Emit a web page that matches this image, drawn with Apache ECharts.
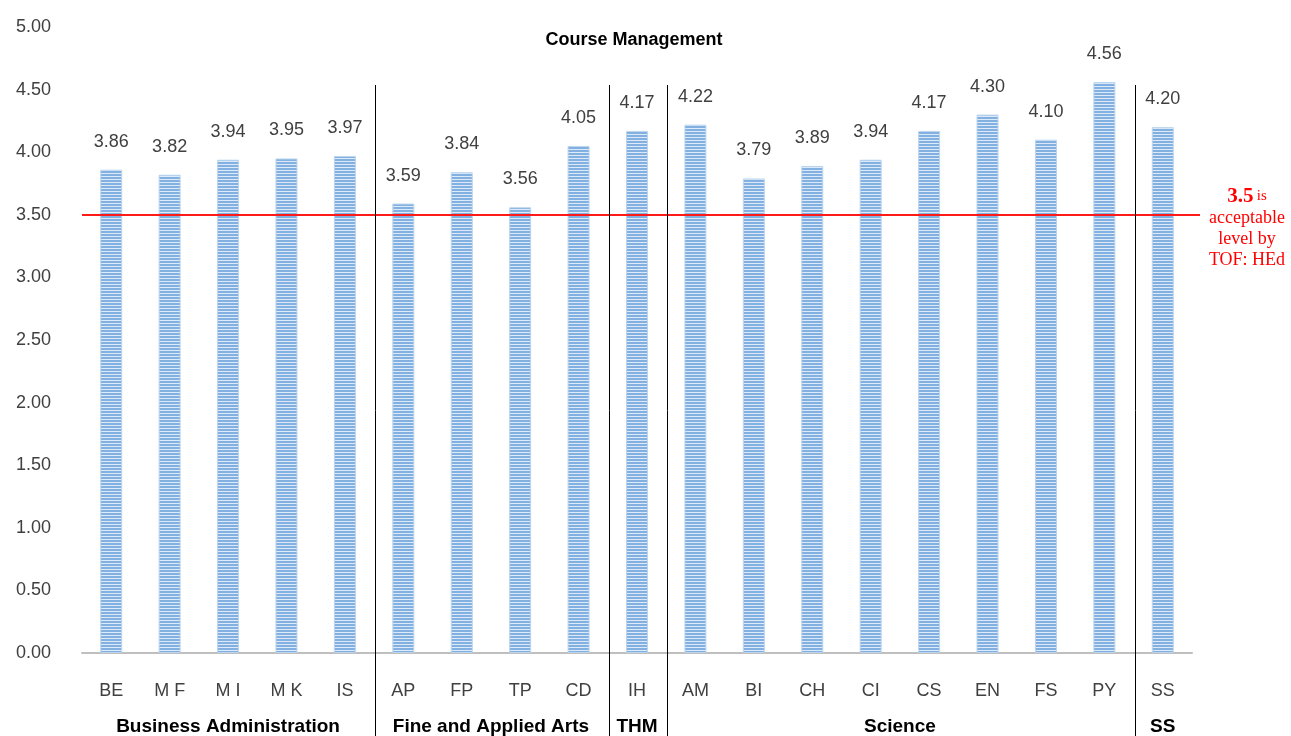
<!DOCTYPE html>
<html>
<head>
<meta charset="utf-8">
<script src="https://cdn.jsdelivr.net/npm/echarts@6/dist/echarts.min.js"></script>
<style>
  html, body { margin: 0; padding: 0; background: #fff; }
  #chart { width: 1291px; height: 736px; }
</style>
</head>
<body>
<div id="chart"></div>
<script>
// data
const programs = ['BE', 'M F', 'M I', 'M K', 'IS', 'AP', 'FP', 'TP', 'CD', 'IH', 'AM', 'BI', 'CH', 'CI', 'CS', 'EN', 'FS', 'PY', 'SS'];
const scores = [3.86, 3.82, 3.94, 3.95, 3.97, 3.59, 3.84, 3.56, 4.05, 4.17, 4.22, 3.79, 3.89, 3.94, 4.17, 4.30, 4.10, 4.56, 4.20];
const groupNames = ['Business Administration', 'Fine and Applied Arts', 'THM', 'Science', 'SS'];
const groupSizes = [5, 4, 1, 8, 1];
const acceptable = 3.5;

// striped fill like the original bars
function stripePattern() {
  const c = document.createElement('canvas');
  c.width = 4; c.height = 3;
  const ctx = c.getContext('2d');
  ctx.fillStyle = '#82b0e0';
  ctx.fillRect(0, 0, 4, 2);
  ctx.fillStyle = '#dbe9f8';
  ctx.fillRect(0, 2, 4, 1);
  return c;
}

const chart = echarts.init(document.getElementById('chart'));

const option = {
  animation: false,
  title: {
    text: 'Course Management',
    left: 629,
    textAlign: 'center',
    top: 26,
    textStyle: { fontFamily: 'Arial, Liberation Sans', fontSize: 18, fontWeight: 'bold', color: '#000' }
  },
  grid: { left: 82, right: 99, top: 27, bottom: 83 },
  xAxis: {
    type: 'category',
    data: programs,
    axisLine: { lineStyle: { color: '#bfbfbf', width: 2 } },
    axisTick: { show: false },
    axisLabel: { margin: 29, fontFamily: 'Arial, Liberation Sans', fontSize: 18, color: '#404040' }
  },
  yAxis: {
    type: 'value',
    min: 0,
    max: 5,
    interval: 0.5,
    splitLine: { show: false },
    axisLine: { show: false },
    axisTick: { show: false },
    axisLabel: {
      margin: 31,
      fontFamily: 'Arial, Liberation Sans',
      fontSize: 18,
      color: '#404040',
      formatter: v => v.toFixed(2)
    }
  },
  series: [{
    type: 'bar',
    data: scores,
    barWidth: 22,
    itemStyle: {
      color: { image: stripePattern(), repeat: 'repeat' },
      borderColor: '#bcd5ef',
      borderWidth: 1
    },
    label: {
      show: true,
      position: 'top',
      distance: 19,
      fontFamily: 'Arial, Liberation Sans',
      fontSize: 18,
      color: '#404040',
      formatter: p => p.value.toFixed(2)
    }
  }]
};
chart.setOption(option);

const graphics = [];

// acceptable-level line, y taken from the value axis
const yLevel = Math.round(chart.convertToPixel({ yAxisIndex: 0 }, acceptable));
graphics.push({
  type: 'rect',
  z: 100,
  shape: { x: 82, y: yLevel - 1, width: 1118, height: 2 },
  style: { fill: '#ff1a1a', stroke: null }
});

// group separators and group names, placed with the axis scale
let start = 0;
groupSizes.forEach((size, g) => {
  const end = start + size - 1;
  const x0 = chart.convertToPixel({ xAxisIndex: 0 }, start);
  const x1 = chart.convertToPixel({ xAxisIndex: 0 }, end);
  const step = chart.convertToPixel({ xAxisIndex: 0 }, 1) - chart.convertToPixel({ xAxisIndex: 0 }, 0);
  graphics.push({
    type: 'text',
    x: (x0 + x1) / 2,
    y: 727,
    style: {
      text: groupNames[g],
      align: 'center',
      verticalAlign: 'middle',
      font: 'bold 19px Arial, Liberation Sans',
      fill: '#000'
    }
  });
  if (g < groupSizes.length - 1) {
    const bx = Math.round(x1 + step / 2) + 1.5;
    graphics.push({
      type: 'line',
      z: 100,
      shape: { x1: bx, y1: 85, x2: bx, y2: 736 },
      style: { stroke: '#000', lineWidth: 1 }
    });
  }
  start += size;
});

// note on the acceptable level
graphics.push({
  type: 'text',
  x: 1247,
  y: 185,
  style: {
    text: '{big|3.5} {small|is}\n{n|acceptable}\n{n|level by}\n{n|TOF: HEd}',
    align: 'center',
    fill: '#ff0000',
    rich: {
      big: { fontFamily: 'Liberation Serif, Times New Roman', fontSize: 21, fontWeight: 'bold', fill: '#ff0000', lineHeight: 23 },
      small: { fontFamily: 'Liberation Serif, Times New Roman', fontSize: 15, fill: '#ff0000', lineHeight: 23 },
      n: { fontFamily: 'Liberation Serif, Times New Roman', fontSize: 18, fill: '#ff0000', lineHeight: 21 }
    }
  }
});

chart.setOption({ graphic: graphics });
</script>
</body>
</html>
